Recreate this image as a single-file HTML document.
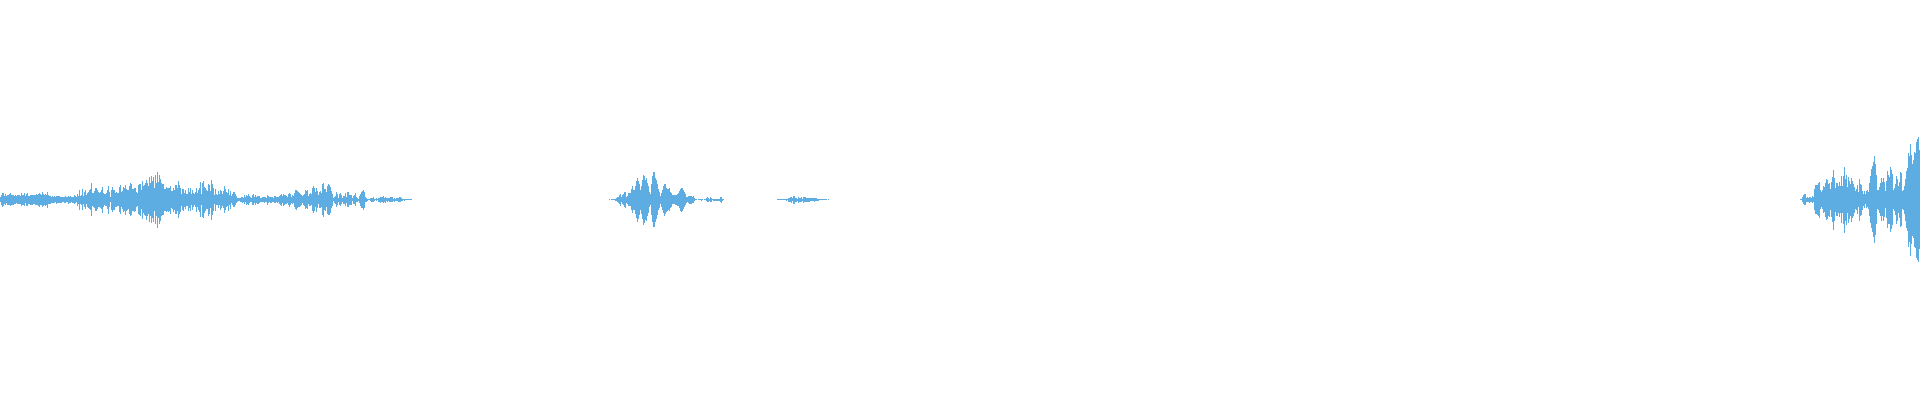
<!DOCTYPE html>
<html><head><meta charset="utf-8"><title>waveform</title>
<style>html,body{margin:0;padding:0;background:#fff;overflow:hidden}svg{display:block}</style>
</head><body>
<svg width="1920" height="400" viewBox="0 0 1920 400" shape-rendering="crispEdges">
<rect width="1920" height="400" fill="#ffffff"/>
<path fill="#5dade2" d="M0 197h1v5h-1zM1 195h1v10h-1zM2 193h1v14h-1zM3 193h1v13h-1zM4 196h1v8h-1zM5 194h1v11h-1zM6 196h1v7h-1zM7 195h1v10h-1zM8 195h1v10h-1zM9 194h1v11h-1zM10 193h1v13h-1zM11 195h1v10h-1zM12 195h1v10h-1zM13 195h1v10h-1zM14 196h1v8h-1zM15 195h1v9h-1zM16 196h1v7h-1zM17 195h1v9h-1zM18 195h1v9h-1zM19 195h1v9h-1zM20 196h1v8h-1zM21 193h1v13h-1zM22 195h1v10h-1zM23 195h1v10h-1zM24 193h1v13h-1zM25 196h1v7h-1zM26 194h1v12h-1zM27 193h1v13h-1zM28 196h1v8h-1zM29 196h1v8h-1zM30 195h1v10h-1zM31 195h1v10h-1zM32 195h1v10h-1zM33 195h1v9h-1zM34 195h1v9h-1zM35 195h1v10h-1zM36 194h1v11h-1zM37 195h1v10h-1zM38 194h1v12h-1zM39 193h1v14h-1zM40 194h1v11h-1zM41 195h1v10h-1zM42 192h1v15h-1zM43 194h1v12h-1zM44 195h1v10h-1zM45 194h1v12h-1zM46 195h1v10h-1zM47 192h1v16h-1zM48 195h1v9h-1zM49 196h1v8h-1zM50 196h1v8h-1zM51 197h1v6h-1zM52 196h1v7h-1zM53 197h1v6h-1zM54 196h1v7h-1zM55 197h1v5h-1zM56 196h1v8h-1zM57 196h1v7h-1zM58 196h1v7h-1zM59 196h1v7h-1zM60 197h1v6h-1zM61 197h1v6h-1zM62 197h1v5h-1zM63 197h1v5h-1zM64 197h1v6h-1zM65 196h1v7h-1zM66 197h1v5h-1zM67 197h1v5h-1zM68 196h1v8h-1zM69 197h1v6h-1zM70 196h1v7h-1zM71 197h1v5h-1zM72 197h1v6h-1zM73 197h1v6h-1zM74 195h1v9h-1zM75 196h1v7h-1zM76 197h1v5h-1zM77 194h1v12h-1zM78 196h1v8h-1zM79 190h1v20h-1zM80 196h1v8h-1zM81 195h1v10h-1zM82 189h1v21h-1zM83 196h1v8h-1zM84 192h1v15h-1zM85 190h1v19h-1zM86 195h1v9h-1zM87 193h1v14h-1zM88 192h1v16h-1zM89 190h1v19h-1zM90 189h1v21h-1zM91 183h1v33h-1zM92 193h1v13h-1zM93 193h1v14h-1zM94 191h1v17h-1zM95 188h1v23h-1zM96 188h1v23h-1zM97 190h1v19h-1zM98 192h1v15h-1zM99 193h1v14h-1zM100 192h1v16h-1zM101 190h1v19h-1zM102 187h1v26h-1zM103 193h1v14h-1zM104 194h1v11h-1zM105 194h1v12h-1zM106 193h1v13h-1zM107 190h1v19h-1zM108 186h1v28h-1zM109 192h1v15h-1zM110 197h1v5h-1zM111 190h1v20h-1zM112 187h1v25h-1zM113 190h1v20h-1zM114 190h1v20h-1zM115 193h1v14h-1zM116 192h1v15h-1zM117 193h1v13h-1zM118 193h1v13h-1zM119 187h1v25h-1zM120 185h1v29h-1zM121 192h1v15h-1zM122 191h1v18h-1zM123 187h1v25h-1zM124 188h1v23h-1zM125 185h1v30h-1zM126 189h1v22h-1zM127 190h1v20h-1zM128 190h1v19h-1zM129 186h1v28h-1zM130 183h1v33h-1zM131 184h1v31h-1zM132 189h1v22h-1zM133 189h1v22h-1zM134 188h1v24h-1zM135 188h1v23h-1zM136 192h1v15h-1zM137 193h1v13h-1zM138 185h1v29h-1zM139 184h1v31h-1zM140 184h1v32h-1zM141 190h1v19h-1zM142 181h1v38h-1zM143 186h1v27h-1zM144 185h1v30h-1zM145 183h1v33h-1zM146 180h1v40h-1zM147 183h1v33h-1zM148 186h1v28h-1zM149 177h1v45h-1zM150 183h1v33h-1zM151 176h1v47h-1zM152 181h1v37h-1zM153 177h1v45h-1zM154 188h1v23h-1zM155 175h1v49h-1zM156 183h1v33h-1zM157 172h1v56h-1zM158 182h1v36h-1zM159 175h1v49h-1zM160 179h1v42h-1zM161 183h1v33h-1zM162 184h1v31h-1zM163 184h1v31h-1zM164 189h1v22h-1zM165 189h1v22h-1zM166 187h1v25h-1zM167 188h1v23h-1zM168 188h1v24h-1zM169 188h1v23h-1zM170 186h1v28h-1zM171 191h1v17h-1zM172 191h1v18h-1zM173 188h1v24h-1zM174 190h1v20h-1zM175 185h1v29h-1zM176 185h1v29h-1zM177 188h1v23h-1zM178 181h1v37h-1zM179 185h1v29h-1zM180 188h1v24h-1zM181 194h1v12h-1zM182 189h1v21h-1zM183 189h1v22h-1zM184 193h1v14h-1zM185 190h1v19h-1zM186 194h1v12h-1zM187 194h1v12h-1zM188 188h1v23h-1zM189 192h1v16h-1zM190 188h1v23h-1zM191 194h1v11h-1zM192 190h1v20h-1zM193 193h1v14h-1zM194 194h1v11h-1zM195 192h1v15h-1zM196 188h1v24h-1zM197 193h1v14h-1zM198 190h1v20h-1zM199 188h1v24h-1zM200 182h1v35h-1zM201 194h1v11h-1zM202 183h1v34h-1zM203 181h1v37h-1zM204 187h1v26h-1zM205 188h1v23h-1zM206 190h1v19h-1zM207 191h1v18h-1zM208 184h1v32h-1zM209 185h1v29h-1zM210 191h1v17h-1zM211 180h1v40h-1zM212 184h1v31h-1zM213 188h1v23h-1zM214 195h1v9h-1zM215 189h1v22h-1zM216 194h1v11h-1zM217 195h1v10h-1zM218 191h1v17h-1zM219 194h1v11h-1zM220 190h1v20h-1zM221 191h1v17h-1zM222 194h1v12h-1zM223 191h1v17h-1zM224 186h1v27h-1zM225 189h1v21h-1zM226 192h1v15h-1zM227 193h1v13h-1zM228 189h1v22h-1zM229 195h1v10h-1zM230 191h1v18h-1zM231 196h1v7h-1zM232 194h1v11h-1zM233 192h1v15h-1zM234 192h1v15h-1zM235 194h1v11h-1zM236 196h1v7h-1zM237 198h1v4h-1zM238 198h1v3h-1zM239 198h1v3h-1zM240 198h1v4h-1zM241 197h1v5h-1zM242 197h1v6h-1zM243 198h1v4h-1zM244 195h1v9h-1zM245 197h1v5h-1zM246 195h1v10h-1zM247 196h1v8h-1zM248 194h1v11h-1zM249 196h1v7h-1zM250 197h1v5h-1zM251 198h1v4h-1zM252 195h1v10h-1zM253 194h1v11h-1zM254 197h1v6h-1zM255 195h1v10h-1zM256 197h1v6h-1zM257 196h1v8h-1zM258 196h1v8h-1zM259 196h1v7h-1zM260 198h1v4h-1zM261 198h1v4h-1zM262 197h1v5h-1zM263 197h1v5h-1zM264 197h1v6h-1zM265 197h1v5h-1zM266 198h1v4h-1zM267 195h1v10h-1zM268 196h1v7h-1zM269 197h1v5h-1zM270 197h1v6h-1zM271 197h1v6h-1zM272 197h1v5h-1zM273 198h1v4h-1zM274 196h1v7h-1zM275 196h1v7h-1zM276 197h1v5h-1zM277 197h1v6h-1zM278 197h1v5h-1zM279 196h1v8h-1zM280 195h1v10h-1zM281 194h1v12h-1zM282 196h1v7h-1zM283 194h1v12h-1zM284 195h1v10h-1zM285 195h1v9h-1zM286 196h1v8h-1zM287 197h1v6h-1zM288 194h1v11h-1zM289 193h1v14h-1zM290 194h1v11h-1zM291 197h1v6h-1zM292 195h1v9h-1zM293 196h1v7h-1zM294 193h1v14h-1zM295 190h1v19h-1zM296 190h1v20h-1zM297 191h1v17h-1zM298 192h1v15h-1zM299 193h1v14h-1zM300 194h1v12h-1zM301 195h1v10h-1zM302 196h1v7h-1zM303 195h1v10h-1zM304 194h1v12h-1zM305 190h1v19h-1zM306 191h1v17h-1zM307 190h1v19h-1zM308 196h1v8h-1zM309 194h1v12h-1zM310 193h1v13h-1zM311 194h1v11h-1zM312 188h1v23h-1zM313 186h1v27h-1zM314 188h1v23h-1zM315 192h1v15h-1zM316 188h1v24h-1zM317 191h1v17h-1zM318 195h1v9h-1zM319 192h1v16h-1zM320 191h1v17h-1zM321 193h1v14h-1zM322 184h1v31h-1zM323 183h1v34h-1zM324 189h1v21h-1zM325 189h1v22h-1zM326 192h1v15h-1zM327 186h1v28h-1zM328 184h1v31h-1zM329 185h1v30h-1zM330 187h1v26h-1zM331 191h1v17h-1zM332 194h1v12h-1zM333 198h1v3h-1zM334 197h1v6h-1zM335 196h1v8h-1zM336 192h1v15h-1zM337 194h1v11h-1zM338 198h1v4h-1zM339 194h1v11h-1zM340 193h1v13h-1zM341 195h1v9h-1zM342 198h1v4h-1zM343 196h1v8h-1zM344 196h1v8h-1zM345 193h1v13h-1zM346 197h1v6h-1zM347 192h1v15h-1zM348 192h1v15h-1zM349 195h1v10h-1zM350 195h1v10h-1zM351 195h1v10h-1zM352 198h1v3h-1zM353 196h1v8h-1zM354 195h1v9h-1zM355 193h1v13h-1zM356 197h1v5h-1zM357 198h1v4h-1zM358 199h1v2h-1zM359 196h1v7h-1zM360 194h1v12h-1zM361 192h1v16h-1zM362 191h1v17h-1zM363 190h1v20h-1zM364 192h1v16h-1zM365 197h1v5h-1zM366 198h1v4h-1zM367 199h1v2h-1zM368 199h1v1h-1zM369 199h1v1h-1zM370 198h1v3h-1zM371 198h1v4h-1zM372 198h1v4h-1zM373 197h1v5h-1zM374 199h1v2h-1zM375 199h1v1h-1zM376 198h1v3h-1zM377 199h1v1h-1zM378 198h1v4h-1zM379 198h1v4h-1zM380 197h1v6h-1zM381 197h1v5h-1zM382 197h1v5h-1zM383 196h1v7h-1zM384 198h1v4h-1zM385 197h1v6h-1zM386 198h1v3h-1zM387 198h1v4h-1zM388 198h1v3h-1zM389 198h1v4h-1zM390 197h1v5h-1zM391 197h1v5h-1zM392 197h1v5h-1zM393 199h1v2h-1zM394 198h1v4h-1zM395 199h1v2h-1zM396 198h1v3h-1zM397 198h1v3h-1zM398 198h1v4h-1zM399 197h1v5h-1zM400 197h1v5h-1zM401 198h1v3h-1zM402 199h1v2h-1zM403 199h1v1h-1zM404 199h1v2h-1zM405 199h1v1h-1zM406 199h1v1h-1zM407 199h1v1h-1zM408 199h1v1h-1zM409 199h1v1h-1zM410 199h1v1h-1zM411 199h1v1h-1zM609 199h1v1h-1zM611 199h1v1h-1zM612 199h1v1h-1zM613 199h1v1h-1zM614 199h1v1h-1zM615 199h1v2h-1zM616 198h1v3h-1zM617 197h1v5h-1zM618 197h1v6h-1zM619 195h1v9h-1zM620 194h1v12h-1zM621 197h1v5h-1zM622 195h1v9h-1zM623 194h1v11h-1zM624 192h1v15h-1zM625 192h1v16h-1zM626 197h1v6h-1zM627 196h1v8h-1zM628 193h1v13h-1zM629 193h1v13h-1zM630 193h1v13h-1zM631 189h1v21h-1zM632 186h1v27h-1zM633 190h1v20h-1zM634 190h1v20h-1zM635 186h1v28h-1zM636 181h1v37h-1zM637 178h1v44h-1zM638 181h1v38h-1zM639 184h1v31h-1zM640 190h1v20h-1zM641 186h1v28h-1zM642 180h1v39h-1zM643 175h1v50h-1zM644 176h1v47h-1zM645 180h1v40h-1zM646 178h1v43h-1zM647 183h1v33h-1zM648 186h1v27h-1zM649 192h1v15h-1zM650 194h1v11h-1zM651 184h1v31h-1zM652 176h1v46h-1zM653 172h1v55h-1zM654 172h1v55h-1zM655 178h1v44h-1zM656 180h1v39h-1zM657 184h1v31h-1zM658 189h1v21h-1zM659 192h1v16h-1zM660 196h1v8h-1zM661 193h1v14h-1zM662 190h1v20h-1zM663 186h1v27h-1zM664 184h1v32h-1zM665 184h1v30h-1zM666 188h1v24h-1zM667 189h1v22h-1zM668 189h1v21h-1zM669 188h1v23h-1zM670 192h1v16h-1zM671 193h1v14h-1zM672 195h1v9h-1zM673 195h1v9h-1zM674 195h1v9h-1zM675 195h1v10h-1zM676 195h1v10h-1zM677 194h1v12h-1zM678 193h1v13h-1zM679 191h1v17h-1zM680 189h1v22h-1zM681 188h1v24h-1zM682 188h1v23h-1zM683 190h1v19h-1zM684 192h1v15h-1zM685 194h1v11h-1zM686 197h1v6h-1zM687 197h1v5h-1zM688 196h1v7h-1zM689 196h1v8h-1zM690 196h1v8h-1zM691 196h1v8h-1zM692 197h1v6h-1zM693 196h1v7h-1zM694 198h1v3h-1zM695 199h1v1h-1zM696 199h1v1h-1zM698 199h1v1h-1zM699 199h1v1h-1zM700 199h1v1h-1zM701 199h1v2h-1zM702 199h1v1h-1zM704 199h1v1h-1zM705 199h1v1h-1zM706 198h1v3h-1zM707 197h1v5h-1zM708 198h1v4h-1zM709 199h1v2h-1zM710 197h1v5h-1zM711 198h1v4h-1zM712 199h1v1h-1zM713 199h1v2h-1zM714 199h1v2h-1zM715 199h1v2h-1zM716 199h1v2h-1zM717 199h1v2h-1zM718 199h1v2h-1zM719 199h1v2h-1zM720 197h1v5h-1zM721 197h1v6h-1zM722 199h1v2h-1zM723 199h1v1h-1zM777 199h1v1h-1zM778 199h1v1h-1zM779 199h1v1h-1zM780 199h1v1h-1zM781 199h1v1h-1zM782 199h1v1h-1zM783 199h1v1h-1zM784 199h1v1h-1zM785 199h1v1h-1zM786 199h1v2h-1zM787 199h1v1h-1zM788 198h1v4h-1zM789 198h1v4h-1zM790 197h1v5h-1zM791 197h1v6h-1zM792 198h1v3h-1zM793 196h1v8h-1zM794 196h1v8h-1zM795 198h1v4h-1zM796 198h1v4h-1zM797 199h1v2h-1zM798 197h1v6h-1zM799 198h1v4h-1zM800 198h1v4h-1zM801 197h1v5h-1zM802 199h1v2h-1zM803 197h1v6h-1zM804 197h1v5h-1zM805 197h1v5h-1zM806 198h1v4h-1zM807 198h1v4h-1zM808 198h1v4h-1zM809 198h1v4h-1zM810 198h1v3h-1zM811 198h1v3h-1zM812 198h1v3h-1zM813 198h1v3h-1zM814 198h1v4h-1zM815 198h1v3h-1zM816 198h1v3h-1zM817 199h1v2h-1zM818 199h1v2h-1zM819 199h1v1h-1zM820 199h1v1h-1zM821 199h1v1h-1zM822 199h1v1h-1zM823 199h1v1h-1zM824 199h1v1h-1zM825 199h1v1h-1zM826 199h1v1h-1zM828 199h1v1h-1zM1800 199h1v1h-1zM1801 199h1v1h-1zM1802 197h1v5h-1zM1803 195h1v9h-1zM1804 194h1v11h-1zM1805 194h1v11h-1zM1806 198h1v4h-1zM1807 197h1v5h-1zM1808 198h1v4h-1zM1809 197h1v6h-1zM1810 197h1v5h-1zM1811 198h1v4h-1zM1812 196h1v7h-1zM1813 197h1v5h-1zM1814 189h1v21h-1zM1815 185h1v29h-1zM1816 185h1v29h-1zM1817 185h1v30h-1zM1818 183h1v33h-1zM1819 182h1v36h-1zM1820 190h1v19h-1zM1821 192h1v15h-1zM1822 190h1v19h-1zM1823 186h1v27h-1zM1824 187h1v25h-1zM1825 183h1v34h-1zM1826 179h1v41h-1zM1827 180h1v39h-1zM1828 184h1v32h-1zM1829 183h1v34h-1zM1830 189h1v21h-1zM1831 182h1v35h-1zM1832 177h1v45h-1zM1833 170h1v60h-1zM1834 178h1v43h-1zM1835 188h1v24h-1zM1836 183h1v33h-1zM1837 183h1v33h-1zM1838 186h1v27h-1zM1839 182h1v35h-1zM1840 186h1v27h-1zM1841 176h1v47h-1zM1842 186h1v27h-1zM1843 176h1v48h-1zM1844 167h1v66h-1zM1845 179h1v42h-1zM1846 175h1v50h-1zM1847 187h1v26h-1zM1848 177h1v46h-1zM1849 181h1v38h-1zM1850 184h1v32h-1zM1851 178h1v44h-1zM1852 181h1v37h-1zM1853 184h1v32h-1zM1854 187h1v26h-1zM1855 191h1v18h-1zM1856 189h1v21h-1zM1857 185h1v29h-1zM1858 192h1v15h-1zM1859 179h1v42h-1zM1860 184h1v32h-1zM1861 185h1v30h-1zM1862 191h1v19h-1zM1863 194h1v12h-1zM1864 191h1v17h-1zM1865 194h1v10h-1zM1866 191h1v17h-1zM1867 190h1v17h-1zM1868 192h1v17h-1zM1869 183h1v33h-1zM1870 176h1v47h-1zM1871 169h1v59h-1zM1872 166h1v66h-1zM1873 162h1v75h-1zM1874 156h1v87h-1zM1875 164h1v71h-1zM1876 175h1v49h-1zM1877 190h1v19h-1zM1878 190h1v20h-1zM1879 187h1v26h-1zM1880 183h1v33h-1zM1881 178h1v43h-1zM1882 182h1v34h-1zM1883 178h1v43h-1zM1884 182h1v35h-1zM1885 191h1v17h-1zM1886 181h1v37h-1zM1887 171h1v57h-1zM1888 175h1v49h-1zM1889 177h1v47h-1zM1890 167h1v65h-1zM1891 170h1v59h-1zM1892 174h1v51h-1zM1893 190h1v19h-1zM1894 188h1v23h-1zM1895 184h1v31h-1zM1896 176h1v48h-1zM1897 179h1v42h-1zM1898 186h1v27h-1zM1899 182h1v36h-1zM1900 172h1v55h-1zM1901 173h1v53h-1zM1902 191h1v18h-1zM1903 190h1v20h-1zM1904 186h1v28h-1zM1905 179h1v42h-1zM1906 171h1v57h-1zM1907 168h1v63h-1zM1908 153h1v94h-1zM1909 156h1v86h-1zM1910 144h1v112h-1zM1911 155h1v89h-1zM1912 164h1v72h-1zM1913 160h1v78h-1zM1914 152h1v95h-1zM1915 153h1v95h-1zM1916 142h1v116h-1zM1917 139h1v121h-1zM1918 137h1v125h-1zM1919 150h1v99h-1z"/>
</svg>
</body></html>
